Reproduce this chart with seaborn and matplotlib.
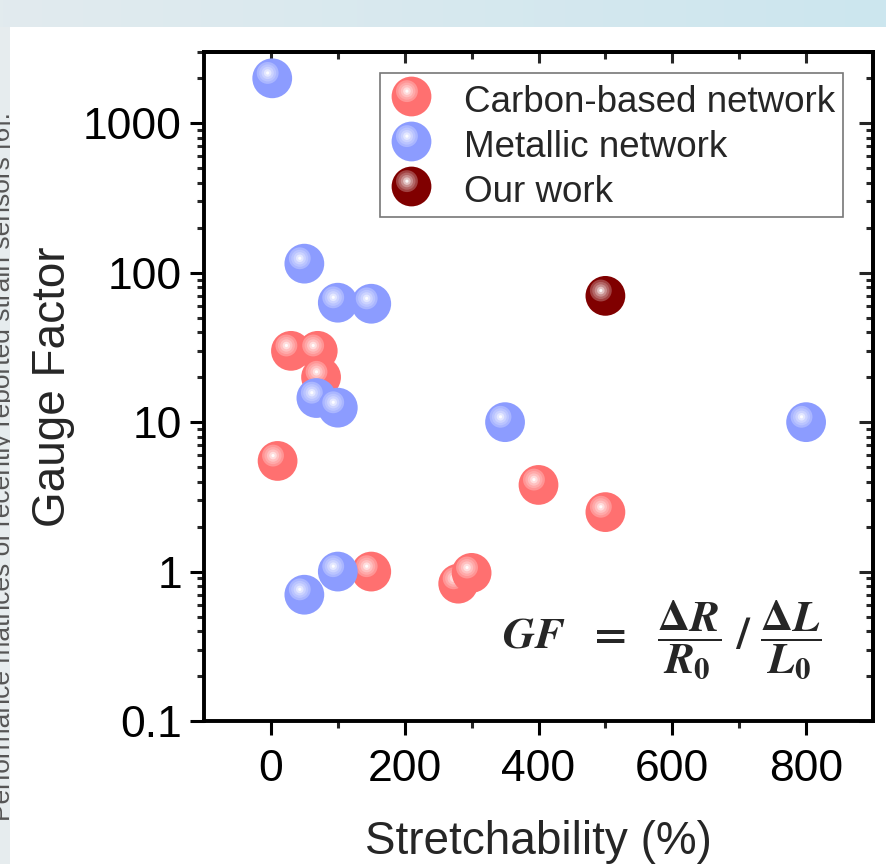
import numpy as np
import pandas as pd
import matplotlib
matplotlib.use("Agg")
import matplotlib.pyplot as plt
import seaborn as sns
from matplotlib.path import Path
from matplotlib.markers import MarkerStyle
from matplotlib.lines import Line2D
from matplotlib.patches import Rectangle
from matplotlib.legend_handler import HandlerTuple
from matplotlib.ticker import FixedLocator, LogLocator, NullFormatter
from matplotlib import font_manager as fm, colors as mcolors

# ---------------- data ----------------
carbon_x = [10, 30, 70, 75, 150, 280, 300, 400, 500]
carbon_gf = [5.5, 30, 30, 20, 1.0, 0.83, 0.98, 3.8, 2.5]
metal_x = [2, 50, 100, 150, 68, 100, 350, 800, 50, 100]
metal_gf = [2000, 115, 63, 62, 14.5, 12.5, 10, 10, 0.7, 1.0]
our_x = [500]
our_gf = [70]
series_names = ["Carbon-based network", "Metallic network", "Our work"]
series_colors = ["#ff7070", "#8c9cff", "#800000"]
x_ticks = [0, 200, 400, 600, 800]
x_minor = [100, 300, 500, 700]
y_ticks = [0.1, 1, 10, 100, 1000]
y_tick_labels = ["0.1", "1", "10", "100", "1000"]
x_label = "Stretchability (%)"
y_label = "Gauge Factor"
side_text = "Performance matrices of recently reported strain sensors [6]."

# ---------------- style ----------------
sns.set_style("ticks")
names = {f.name for f in fm.fontManager.ttflist}
narrow = "Liberation Sans Narrow" in names
axis_font = ["Liberation Sans Narrow", "DejaVu Sans"] if narrow else ["Liberation Sans", "DejaVu Sans"]
plt.rcParams["font.family"] = axis_font
tick_fs = 40 if narrow else 32
label_fs = 41 if narrow else 33
plt.rcParams["mathtext.fontset"] = "custom"
plt.rcParams["mathtext.it"] = "STIXGeneral:italic:bold"
plt.rcParams["mathtext.rm"] = "STIXGeneral:bold"
plt.rcParams["mathtext.bf"] = "STIXGeneral:bold"

W, H = 887, 864
fig = plt.figure(figsize=(W / 100, H / 100), dpi=100)

# ---------------- page background ----------------
bg = fig.add_axes([0, 0, 1, 1], zorder=-10)
g = np.linspace(0, 1, 256)
c0 = np.array([226, 235, 238]) / 255
c1 = np.array([204, 230, 239]) / 255
img = (c0[None, :] * (1 - g[:, None]) + c1[None, :] * g[:, None])[None, :, :]
bg.imshow(img, extent=[0, W, 27, 0], aspect="auto")
bg.add_patch(Rectangle((0, 27), 10, H - 27, color="#e6ecee", zorder=0, lw=0))
bg.text(10, 112, side_text, rotation=90, rotation_mode="anchor", ha="right",
        va="baseline", fontsize=19, color="#555555", family="Liberation Sans", zorder=0.5)
bg.add_patch(Rectangle((10, 27), W - 10, H - 27, color="white", zorder=1, lw=0))
bg.set_xlim(0, W)
bg.set_ylim(H, 0)
bg.axis("off")

# ---------------- main axes ----------------
ax = fig.add_axes([204 / W, (H - 721) / H, 669 / W, 669 / H])
ax.set_facecolor("white")
ax.set_yscale("log")

S = 820  # marker area (pt^2)
MS = np.sqrt(S)


def hl_marker(r, cx=-0.23, cy=0.27):
    circ = Path.circle((cx, cy), r)
    verts = np.vstack([[[-1, -1], [1, 1]], circ.vertices])
    codes = np.concatenate([[Path.MOVETO, Path.MOVETO], circ.codes])
    return MarkerStyle(Path(verts, codes))


hl_specs = [(0.55, 0.26), (0.43, 0.4), (0.31, 0.56), (0.19, 0.76), (0.08, 0.97)]
hl_markers = [(hl_marker(r), f) for r, f in hl_specs]


def blend(c, f):
    rgb = np.array(mcolors.to_rgb(c))
    return tuple(rgb * (1 - f) + f)


series = [(carbon_x, carbon_gf), (metal_x, metal_gf), (our_x, our_gf)]
z = 3.0
for (xs, ys), col in zip(series, series_colors):
    for xi, yi in zip(xs, ys):
        df = pd.DataFrame({"x": [xi], "y": [yi]})
        sns.scatterplot(data=df, x="x", y="y", ax=ax, color=col, s=S, marker="o",
                        linewidth=0, edgecolor="none", zorder=z, legend=False)
        for k, (m, f) in enumerate(hl_markers):
            sns.scatterplot(data=df, x="x", y="y", ax=ax, color=blend(col, f), s=S,
                            marker=m, linewidth=0, edgecolor="none",
                            zorder=z + 0.001 * (k + 1), legend=False)
        z += 0.01

ax.set_xlim(-100, 900)
ax.set_ylim(0.1, 3000)
ax.set_xticks(x_ticks)
ax.set_xticklabels([str(v) for v in x_ticks])
ax.xaxis.set_minor_locator(FixedLocator(x_minor))
ax.set_yticks(y_ticks)
ax.set_yticklabels(y_tick_labels)
ax.yaxis.set_minor_locator(LogLocator(base=10, subs=np.arange(2, 10)))
ax.yaxis.set_minor_formatter(NullFormatter())

LW = 2.8
for s in ax.spines.values():
    s.set_linewidth(LW)
    s.set_color("black")
    s.set_visible(True)
ax.tick_params(axis="both", which="major", direction="out", length=10, width=2.2,
               labelsize=tick_fs, colors="black", top=False, right=False)
ax.tick_params(axis="both", which="minor", direction="out", length=5, width=2.2,
               top=False, right=False)
ax.tick_params(axis="x", which="major", pad=10)
ax.tick_params(axis="y", which="major", pad=6)

top = ax.secondary_xaxis("top")
top.set_xticks(x_ticks)
top.xaxis.set_minor_locator(FixedLocator(x_minor))
top.tick_params(axis="x", which="major", direction="in", length=8, width=2.2, labeltop=False)
top.tick_params(axis="x", which="minor", direction="in", length=5, width=2.2, labeltop=False)
top.spines["top"].set_linewidth(LW)

right = ax.secondary_yaxis("right")
right.set_yticks(y_ticks)
right.yaxis.set_minor_locator(LogLocator(base=10, subs=np.arange(2, 10)))
right.yaxis.set_minor_formatter(NullFormatter())
right.tick_params(axis="y", which="major", direction="in", length=10, width=2.2, labelright=False)
right.tick_params(axis="y", which="minor", direction="in", length=5, width=2.2, labelright=False)
right.spines["right"].set_linewidth(LW)

ax.set_xlabel(x_label, fontsize=label_fs, labelpad=22)
ax.set_ylabel(y_label, fontsize=label_fs, labelpad=6)

# ---------------- legend ----------------
handles = []
for col in series_colors:
    parts = [Line2D([], [], ls="", marker="o", ms=MS, mfc=col, mec="none", mew=0)]
    for m, f in hl_markers:
        parts.append(Line2D([], [], ls="", marker=m, ms=MS, mfc=blend(col, f),
                            mec="none", mew=0))
    handles.append(tuple(parts))
leg = ax.legend(handles, series_names, handler_map={tuple: HandlerTuple(ndivide=1)},
                loc="upper right", bbox_to_anchor=(0.955, 0.969), borderaxespad=0,
                prop={"family": "Liberation Sans", "size": 26.5},
                handlelength=1.3, handleheight=1.3, handletextpad=0.8, borderpad=0.2,
                labelspacing=0.12, fancybox=False, framealpha=1, edgecolor="#777777")
leg.get_frame().set_linewidth(1.2)
leg.set_zorder(10)

# ---------------- formula ----------------
ax.text(0.6846, 0.121, r"$GF\ \ =\ \ \dfrac{\Delta R}{R_0}\ /\ \dfrac{\Delta L}{L_0}$",
        transform=ax.transAxes, ha="center", va="center", fontsize=32, zorder=11)

fig.savefig("out.png", dpi=100)
